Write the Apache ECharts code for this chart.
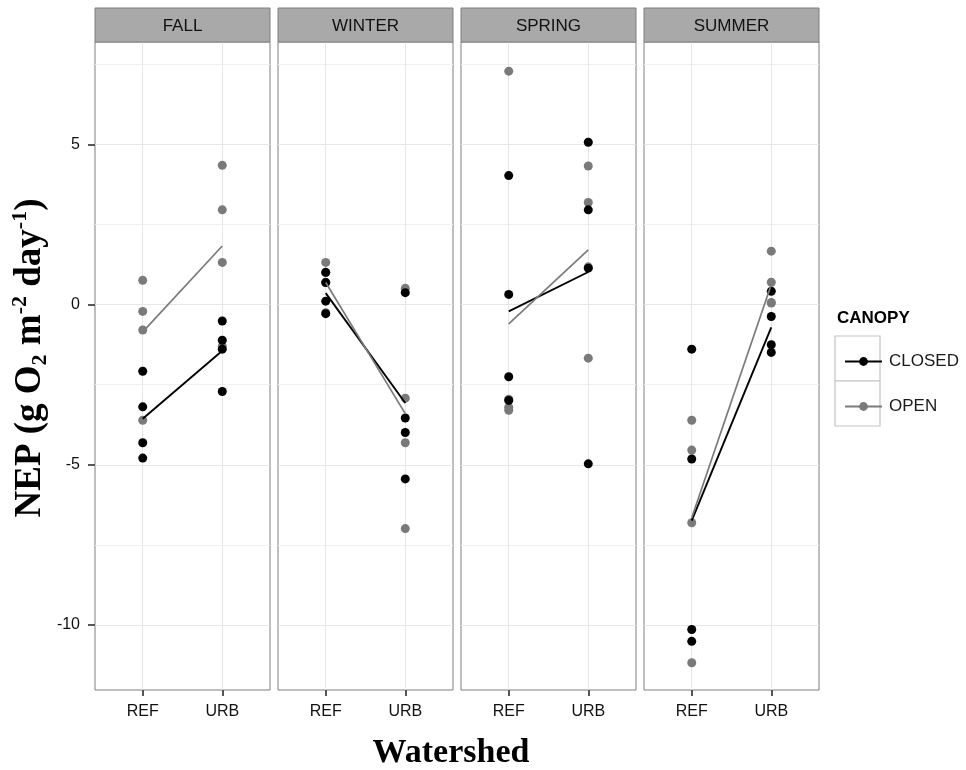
<!DOCTYPE html>
<html>
<head>
<meta charset="utf-8">
<script src="https://cdn.jsdelivr.net/npm/echarts@6/dist/echarts.min.js"></script>
<style>
html,body{margin:0;padding:0;background:#fff;}
#chart{width:966px;height:770px;}
</style>
</head>
<body>
<div id="chart"></div>
<script>
// ---- data ----
const seasons = ['FALL', 'WINTER', 'SPRING', 'SUMMER'];
const watersheds = ['REF', 'URB'];
const groups = ['CLOSED', 'OPEN'];
const yTicks = [-10, -5, 0, 5];
const yMinor = [-7.5, -2.5, 2.5, 7.5];

// individual NEP values, one inner array per season
const closedREF = [[-2.08, -3.19, -4.31, -4.79], [1.01, 0.69, 0.11, -0.28], [4.03, 0.32, -2.25, -2.99], [-1.39, -4.82, -10.14, -10.51]];
const closedURB = [[-0.51, -1.11, -1.39, -2.71], [0.375, -3.54, -3.99, -5.44], [5.07, 2.96, 1.14, -4.97], [0.42, -0.37, -1.25, -1.49]];
const openREF = [[0.76, -0.21, -0.79, -3.61], [1.32, 1.0, 0.7, -0.25], [7.29, -3.2, -3.3, -2.95], [-3.61, -4.54, -6.81, -11.18]];
const openURB = [[4.35, 2.96, 1.32, -1.3], [0.51, -2.92, -4.31, -6.99], [4.33, 3.19, 1.18, -1.67], [1.67, 0.70, 0.05, 0.07]];

// group mean lines [REF, URB] per season
const closedMean = [[-3.56, -1.44], [0.36, -3.07], [-0.21, 1.02], [-6.74, -0.71]];
const openMean = [[-0.85, 1.83], [0.69, -3.40], [-0.60, 1.71], [-6.65, 0.63]];

// ---- layout / style ----
const panelLeft = [95, 278, 461, 644];
const panelW = 175, panelTop = 42, panelH = 648;
const stripTop = 8;
const yMin = -12.03, yMax = 8.2;
const colClosed = '#000000', colOpen = '#7a7a7a';
const sans = 'Liberation Sans', serif = 'Liberation Serif';

const chart = echarts.init(document.getElementById('chart'), null, {renderer: 'canvas'});

const grid = [], xAxis = [], yAxis = [], series = [], graphic = [];

seasons.forEach((s, i) => {
  grid.push({left: panelLeft[i], top: panelTop, width: panelW, height: panelH,
    show: true, borderColor: '#7f7f7f', borderWidth: 1, backgroundColor: '#ffffff'});
  xAxis.push({type: 'value', gridIndex: i, min: 0.4, max: 2.6, position: 'bottom',
    axisLine: {show: false, onZero: false},
    axisTick: {show: true, customValues: [1, 2], length: 6, lineStyle: {color: '#444', width: 1.8}},
    axisLabel: {show: true, customValues: [1, 2], formatter: v => watersheds[Math.round(v) - 1],
      fontFamily: sans, fontSize: 16, color: '#111', margin: 14},
    splitLine: {show: true, lineStyle: {color: '#e6e6e6', width: 1}}});
  // major
  yAxis.push({type: 'value', gridIndex: i, min: yMin, max: yMax,
    axisLine: {show: false, onZero: false},
    axisTick: {show: i === 0, customValues: yTicks, length: 7, lineStyle: {color: '#444', width: 1.8}},
    axisLabel: {show: i === 0, customValues: yTicks, fontFamily: sans, fontSize: 16, color: '#111', margin: 15},
    splitLine: {show: true, lineStyle: {color: '#e6e6e6', width: 1}},
    name: i === 0 ? '{a|NEP (g O}{s|2}{a| m}{p|-2}{a| day}{p|-1}{a|)}' : '',
    nameLocation: 'middle', nameRotate: 90, nameGap: 44,
    nameTextStyle: {padding: [0, 0, 0, 16], rich: {
      a: {fontFamily: serif, fontWeight: 'bold', fontSize: 37, color: '#000', lineHeight: 42},
      s: {fontFamily: serif, fontWeight: 'bold', fontSize: 22, color: '#000', lineHeight: 24, verticalAlign: 'bottom'},
      p: {fontFamily: serif, fontWeight: 'bold', fontSize: 22, color: '#000', lineHeight: 20, verticalAlign: 'top'}
    }}});
  // minor grid lines
  yAxis.push({type: 'value', gridIndex: i, min: yMin, max: yMax,
    axisLine: {show: false, onZero: false},
    axisTick: {show: false, customValues: yMinor},
    axisLabel: {show: false, customValues: yMinor},
    splitLine: {show: true, lineStyle: {color: '#f0f0f0', width: 1}}});

  // strip
  graphic.push({type: 'rect', shape: {x: panelLeft[i], y: stripTop, width: panelW, height: panelTop - stripTop},
    style: {fill: '#a9a9a9', stroke: '#7f7f7f', lineWidth: 1}, z: 10});
  graphic.push({type: 'text', x: panelLeft[i] + panelW / 2, y: (stripTop + panelTop) / 2 + 1,
    style: {text: s, fill: '#111', font: '17px ' + sans, textAlign: 'center', textVerticalAlign: 'middle'}, z: 11});
});

// mean lines first so legend icons come from them
seasons.forEach((s, i) => {
  [[groups[0], closedMean, colClosed, 1.9], [groups[1], openMean, colOpen, 1.7]].forEach(([name, m, col, w]) => {
    series.push({type: 'line', name: name, xAxisIndex: i, yAxisIndex: 2 * i,
      data: [[1, m[i][0]], [2, m[i][1]]],
      symbol: 'circle', symbolSize: 9, showSymbol: false,
      lineStyle: {color: col, width: w}, itemStyle: {color: col},
      z: 4, silent: true, animation: false});
  });
});
seasons.forEach((s, i) => {
  [[groups[1], openREF, openURB, colOpen], [groups[0], closedREF, closedURB, colClosed]].forEach(([name, r, u, col]) => {
    series.push({type: 'scatter', name: name, xAxisIndex: i, yAxisIndex: 2 * i,
      data: r[i].map(v => [1, v]).concat(u[i].map(v => [2, v])),
      symbol: 'circle', symbolSize: 9, itemStyle: {color: col, opacity: 1},
      z: 3, silent: true, animation: false});
  });
});

// legend key boxes + title
graphic.push({type: 'text', x: 837, y: 318,
  style: {text: 'CANOPY', fill: '#000', font: 'bold 17px ' + sans, textVerticalAlign: 'middle'}});
graphic.push({type: 'rect', shape: {x: 835, y: 336, width: 45, height: 45},
  style: {fill: '#fff', stroke: '#c4c4c4', lineWidth: 1.2}, z: 0});
graphic.push({type: 'rect', shape: {x: 835, y: 381, width: 45, height: 45},
  style: {fill: '#fff', stroke: '#c4c4c4', lineWidth: 1.2}, z: 0});
// x axis title
graphic.push({type: 'text', x: 451, y: 753,
  style: {text: 'Watershed', fill: '#000', font: 'bold 34px ' + serif, textAlign: 'center', textVerticalAlign: 'middle'}});

chart.setOption({
  animation: false,
  backgroundColor: '#ffffff',
  grid: grid, xAxis: xAxis, yAxis: yAxis, series: series, graphic: graphic,
  legend: {data: groups, orient: 'vertical', left: 839, top: 348, itemWidth: 37, itemHeight: 11, itemGap: 28,
    selectedMode: false, z: 5,
    textStyle: {fontFamily: sans, fontSize: 17, color: '#1a1a1a', padding: [0, 0, 0, 2]}}
});
</script>
</body>
</html>
